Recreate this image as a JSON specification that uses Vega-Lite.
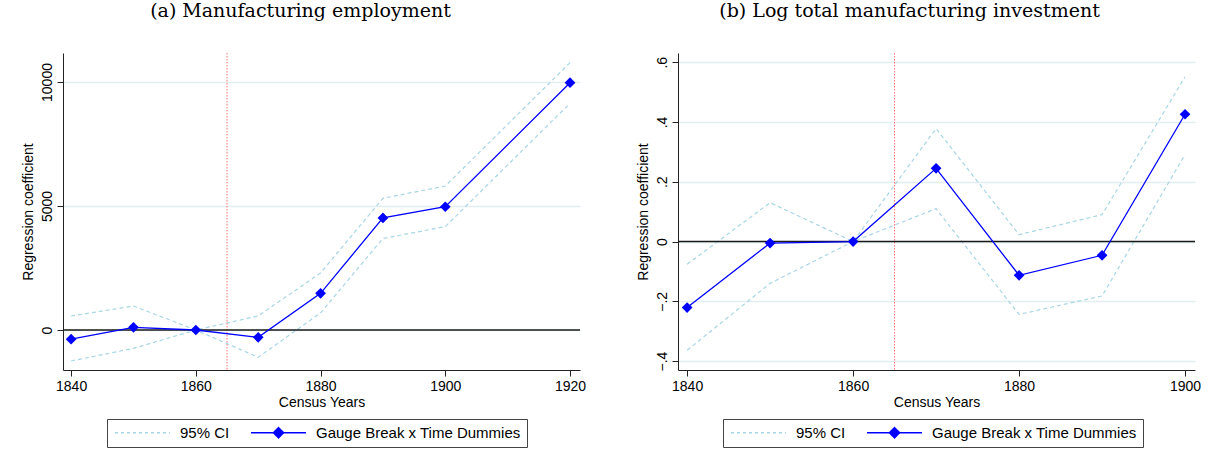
{
  "$schema": "https://vega.github.io/schema/vega-lite/v6.json",
  "background": "white",
  "padding": {"left": 21, "top": 1, "right": 5, "bottom": 5},
  "datasets": {
    "emp": [
      {"year": 1840, "coef": -370, "lo": -1250, "hi": 565},
      {"year": 1850, "coef": 108, "lo": -740, "hi": 965},
      {"year": 1860, "coef": 0, "lo": 0, "hi": 0},
      {"year": 1870, "coef": -295, "lo": -1100, "hi": 565},
      {"year": 1880, "coef": 1480, "lo": 690, "hi": 2300},
      {"year": 1890, "coef": 4520, "lo": 3690, "hi": 5310},
      {"year": 1900, "coef": 4970, "lo": 4170, "hi": 5805},
      {"year": 1920, "coef": 9970, "lo": 9140, "hi": 10780}
    ],
    "inv": [
      {"year": 1840, "coef": -0.221, "lo": -0.364, "hi": -0.076},
      {"year": 1850, "coef": -0.005, "lo": -0.140, "hi": 0.130},
      {"year": 1860, "coef": 0, "lo": 0, "hi": 0},
      {"year": 1870, "coef": 0.245, "lo": 0.110, "hi": 0.378},
      {"year": 1880, "coef": -0.113, "lo": -0.244, "hi": 0.023},
      {"year": 1890, "coef": -0.046, "lo": -0.182, "hi": 0.090},
      {"year": 1900, "coef": 0.426, "lo": 0.291, "hi": 0.551}
    ]
  },
  "config": {
    "font": "Liberation Sans",
    "view": {"stroke": null},
    "axis": {
      "labelFont": "Liberation Sans", "titleFont": "Liberation Sans",
      "labelFontSize": 14, "titleFontSize": 14, "titleFontWeight": "normal",
      "labelColor": "#000", "titleColor": "#000",
      "domainColor": "#222", "domainWidth": 1, "tickColor": "#222", "tickSize": 6, "tickWidth": 1,
      "gridColor": "#e4eef1", "gridWidth": 1.5, "labelPadding": 3, "titlePadding": 2
    },
    "axisX": {"grid": false},
    "axisY": {"labelAngle": 270, "grid": true, "titlePadding": 5, "labelPadding": 3},
    "title": {"font": "DejaVu Serif", "fontSize": 19, "fontWeight": "normal", "color": "#000", "baseline": "alphabetic", "offset": 32},
    "legend": {
      "labelFont": "Liberation Sans", "labelFontSize": 15, "labelColor": "#000", "labelLimit": 400
    }
  },
  "spacing": 49,
  "resolve": {"scale": {"color": "independent", "x": "independent", "y": "independent"}, "legend": {"color": "independent"}},
  "hconcat": [
    {
      "width": 517, "height": 317,
      "title": {"text": "(a) Manufacturing employment", "dx": -21},
      "data": {"name": "emp"},
      "layer": [
        {
          "mark": {"type": "line", "strokeDash": [4, 3], "strokeWidth": 1.2},
          "encoding": {
            "x": {"field": "year", "type": "quantitative", "scale": {"domain": [1838.7, 1921.6], "nice": false, "zero": false}, "axis": {"values": [1840, 1860, 1880, 1900, 1920], "format": "d", "title": "Census Years"}},
            "y": {"field": "hi", "type": "quantitative", "scale": {"domain": [-1613, 11169], "nice": false, "zero": false}, "axis": {"values": [0, 5000, 10000], "format": "d", "title": "Regression coefficient"}},
            "color": {"datum": "95% CI", "scale": {"domain": ["95% CI", "Gauge Break x Time Dummies"], "range": ["#a9d6e5", "#0000ff"]},
              "legend": {
                "title": null, "orient": "none", "legendX": 44, "legendY": 366, "direction": "horizontal",
                "strokeColor": "#444", "fillColor": "white", "padding": 6, "columnPadding": 18,
                "symbolSize": 121, "symbolOffset": 22, "labelOffset": 30,
                "labelExpr": "datum.value === '95% CI' ? datum.label : datum.label + '\u00a0\u00a0\u00a0'",
                "encode": {"symbols": {"update": {
                  "shape": [{"test": "datum.value === '95% CI'", "value": "M-5,0H5"}, {"value": "M-5,0H5M0,-0.95L0.95,0L0,0.95L-0.95,0Z"}],
                  "strokeDash": [{"test": "datum.value === '95% CI'", "value": [3, 3]}, {"value": [1, 0]}],
                  "stroke": [{"test": "datum.value === '95% CI'", "value": "#a9d6e5"}, {"value": "#3a3aff"}],
                  "fill": [{"test": "datum.value === '95% CI'", "value": "transparent"}, {"value": "#0000ff"}],
                  "strokeWidth": {"value": 1.3},
                  "opacity": {"value": 1}
                }}}
              }}
          }
        },
        {
          "mark": {"type": "line", "strokeDash": [4, 3], "strokeWidth": 1.2},
          "encoding": {
            "x": {"field": "year", "type": "quantitative"},
            "y": {"field": "lo", "type": "quantitative"},
            "color": {"datum": "95% CI"}
          }
        },
        {
          "data": {"values": [{}]},
          "mark": {"type": "rule", "stroke": "#ff7070", "strokeDash": [1.5, 1.5], "strokeWidth": 1},
          "encoding": {"x": {"datum": 1865}}
        },
        {
          "data": {"values": [{}]},
          "mark": {"type": "rule", "stroke": "#1a1a1a", "strokeWidth": 1.4},
          "encoding": {"y": {"datum": 0}}
        },
        {
          "mark": {"type": "line", "strokeWidth": 1.3},
          "encoding": {
            "x": {"field": "year", "type": "quantitative"},
            "y": {"field": "coef", "type": "quantitative"},
            "color": {"datum": "Gauge Break x Time Dummies"}
          }
        },
        {
          "mark": {"type": "point", "shape": "diamond", "filled": true, "size": 115, "opacity": 1},
          "encoding": {
            "x": {"field": "year", "type": "quantitative"},
            "y": {"field": "coef", "type": "quantitative"},
            "color": {"datum": "Gauge Break x Time Dummies"}
          }
        }
      ]
    },
    {
      "width": 517, "height": 317,
      "title": {"text": "(b) Log total manufacturing investment", "dx": -27},
      "data": {"name": "inv"},
      "layer": [
        {
          "mark": {"type": "line", "strokeDash": [4, 3], "strokeWidth": 1.2},
          "encoding": {
            "x": {"field": "year", "type": "quantitative", "scale": {"domain": [1838.9, 1901.2], "nice": false, "zero": false}, "axis": {"values": [1840, 1860, 1880, 1900], "format": "d", "title": "Census Years"}},
            "y": {"field": "hi", "type": "quantitative", "scale": {"domain": [-0.43, 0.631], "nice": false, "zero": false}, "axis": {"values": [-0.4, -0.2, 0, 0.2, 0.4, 0.6], "labelExpr": "datum.value == 0 ? '0' : replace(format(datum.value, '.1f'), '0.', '.')", "title": "Regression coefficient"}},
            "color": {"datum": "95% CI", "scale": {"domain": ["95% CI", "Gauge Break x Time Dummies"], "range": ["#a9d6e5", "#0000ff"]},
              "legend": {
                "title": null, "orient": "none", "legendX": 45, "legendY": 366, "direction": "horizontal",
                "strokeColor": "#444", "fillColor": "white", "padding": 6, "columnPadding": 18,
                "symbolSize": 121, "symbolOffset": 22, "labelOffset": 30,
                "labelExpr": "datum.value === '95% CI' ? datum.label : datum.label + '\u00a0\u00a0\u00a0'",
                "encode": {"symbols": {"update": {
                  "shape": [{"test": "datum.value === '95% CI'", "value": "M-5,0H5"}, {"value": "M-5,0H5M0,-0.95L0.95,0L0,0.95L-0.95,0Z"}],
                  "strokeDash": [{"test": "datum.value === '95% CI'", "value": [3, 3]}, {"value": [1, 0]}],
                  "stroke": [{"test": "datum.value === '95% CI'", "value": "#a9d6e5"}, {"value": "#3a3aff"}],
                  "fill": [{"test": "datum.value === '95% CI'", "value": "transparent"}, {"value": "#0000ff"}],
                  "strokeWidth": {"value": 1.3},
                  "opacity": {"value": 1}
                }}}
              }}
          }
        },
        {
          "mark": {"type": "line", "strokeDash": [4, 3], "strokeWidth": 1.2},
          "encoding": {
            "x": {"field": "year", "type": "quantitative"},
            "y": {"field": "lo", "type": "quantitative"},
            "color": {"datum": "95% CI"}
          }
        },
        {
          "data": {"values": [{}]},
          "mark": {"type": "rule", "stroke": "#ff7070", "strokeDash": [1.5, 1.5], "strokeWidth": 1},
          "encoding": {"x": {"datum": 1865}}
        },
        {
          "data": {"values": [{}]},
          "mark": {"type": "rule", "stroke": "#1a1a1a", "strokeWidth": 1.4},
          "encoding": {"y": {"datum": 0}}
        },
        {
          "mark": {"type": "line", "strokeWidth": 1.3},
          "encoding": {
            "x": {"field": "year", "type": "quantitative"},
            "y": {"field": "coef", "type": "quantitative"},
            "color": {"datum": "Gauge Break x Time Dummies"}
          }
        },
        {
          "mark": {"type": "point", "shape": "diamond", "filled": true, "size": 115, "opacity": 1},
          "encoding": {
            "x": {"field": "year", "type": "quantitative"},
            "y": {"field": "coef", "type": "quantitative"},
            "color": {"datum": "Gauge Break x Time Dummies"}
          }
        }
      ]
    }
  ]
}
